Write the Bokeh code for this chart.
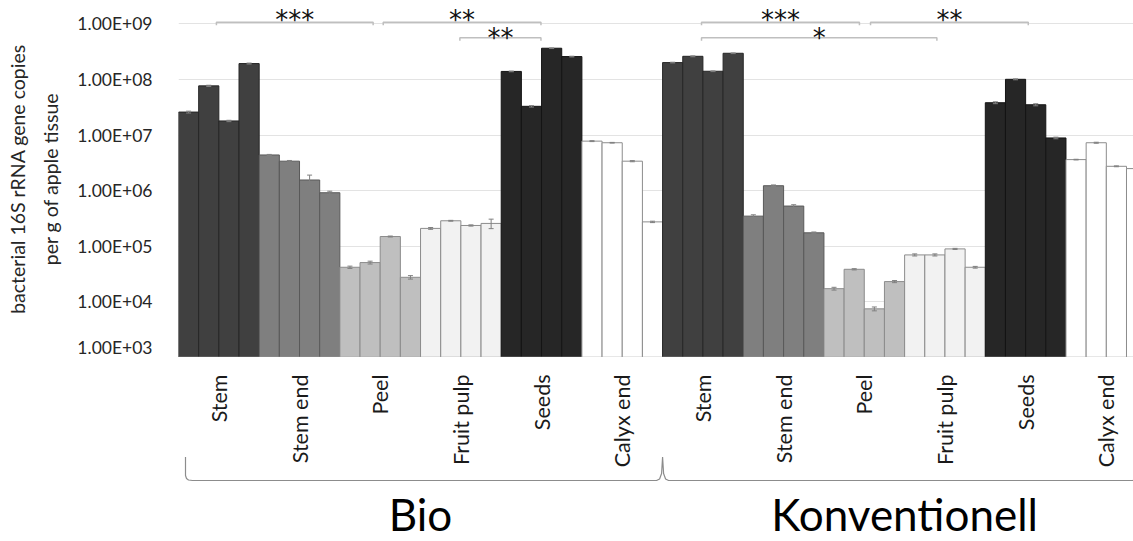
import math
from bokeh.plotting import figure
from bokeh.models import Range1d, FixedTicker, Span, Whisker, TeeHead, ColumnDataSource
from bokeh.layouts import column
from bokeh.core.properties import value
from bokeh.embed import file_html
from bokeh.resources import INLINE

# ---------------- data ----------------
groups = ["Bio", "Konventionell"]
categories = ["Stem", "Stem end", "Peel", "Fruit pulp", "Seeds", "Calyx end"]
n_rep = 4

bio_vals = [2.6e7, 7.7e7, 1.8e7, 1.94e8,
            4.4e6, 3.4e6, 1.56e6, 9.2e5,
            4.2e4, 5.1e4, 1.5e5, 2.77e4,
            2.1e5, 2.88e5, 2.37e5, 2.58e5,
            1.4e8, 3.3e7, 3.66e8, 2.59e8,
            7.8e6, 7.3e6, 3.4e6, 2.75e5]
bio_err = [1.0e6, 2.0e6, 5.0e5, 4.0e6,
           1.0e5, 1.0e5, 3.5e5, 6.0e4,
           2.0e3, 3.0e3, 3.0e3, 2.0e3,
           8.0e3, 5.0e3, 6.0e3, 5.0e4,
           2.0e6, 1.0e6, 5.0e6, 4.0e6,
           1.5e5, 1.0e5, 8.0e4, 8.0e3]
konv_vals = [2.02e8, 2.62e8, 1.41e8, 2.97e8,
             3.49e5, 1.23e6, 5.3e5, 1.75e5,
             1.73e4, 3.86e4, 7.5e3, 2.32e4,
             7.0e4, 7.0e4, 8.98e4, 4.2e4,
             3.83e7, 1.01e8, 3.52e7, 8.9e6,
             3.63e6, 7.3e6, 2.75e6, 2.5e6]
konv_err = [3.0e6, 5.0e6, 2.0e6, 4.0e6,
            2.0e4, 4.0e4, 3.0e4, 6.0e3,
            1.0e3, 1.0e3, 6.0e2, 1.0e3,
            3.0e3, 3.0e3, 2.0e3, 1.5e3,
            1.5e6, 2.0e6, 1.5e6, 3.0e5,
            5.0e4, 1.5e5, 5.0e4, 5.0e4]

tick_values = [1e3, 1e4, 1e5, 1e6, 1e7, 1e8, 1e9]
tick_labels = ["1.00E+03", "1.00E+04", "1.00E+05", "1.00E+06",
               "1.00E+07", "1.00E+08", "1.00E+09"]

y_title = "bacterial 16S rRNA gene copies\nper g of apple tissue"

# significance brackets (bar-position units), row 0 = upper, row 1 = lower
sig_start = [1.88, 10.15, 13.95, 25.93, 25.93, 34.31]
sig_end = [9.65, 17.97, 17.97, 33.76, 37.6, 42.13]
sig_row = [0, 0, 1, 0, 1, 0]
sig_text = ["***", "**", "**", "***", "*", "**"]

# ---------------- styles / layout ----------------
cat_fill = ["#404040", "#7f7f7f", "#bfbfbf", "#f2f2f2", "#262626", "#ffffff"]
cat_line = ["#262626", "#595959", "#8c8c8c", "#8c8c8c", "#141414", "#8c8c8c"]

W, H = 1133, 541
LEFT = 178
TOP_H = 357            # height of chart part (frame 0..357)
PX_DEC = 55.43         # pixels per decade
Y_1E9 = 23.4           # pixel row of 1e9
frame_w = W - LEFT
BW = 20.17             # px per bar
x_end = frame_w / BW

xr = Range1d(0, x_end)
y_top = 10 ** (9 + Y_1E9 / PX_DEC)
y_bot = 10 ** (3 - (TOP_H - 1 - Y_1E9 - 6 * PX_DEC) / PX_DEC)
yr = Range1d(y_bot, y_top)

# build bar table
xs, tops, fills, lines, lo, hi = [], [], [], [], [], []
all_vals = [bio_vals, konv_vals]
all_err = [bio_err, konv_err]
for gi, g in enumerate(groups):
    for ci, c in enumerate(categories):
        for r in range(n_rep):
            k = ci * n_rep + r
            idx = gi * len(categories) * n_rep + k
            v = all_vals[gi][k]
            e = all_err[gi][k]
            xs.append(idx + 0.5)
            tops.append(v)
            fills.append(cat_fill[ci])
            lines.append(cat_line[ci])
            lo.append(v - e)
            hi.append(v + e)

src = ColumnDataSource(dict(x=xs, top=tops, fill=fills, line=lines, lo=lo, hi=hi))

p = figure(width=W, height=TOP_H, y_axis_type="log", x_range=xr, y_range=yr,
           output_backend="svg", toolbar_location=None, x_axis_location=None,
           min_border_left=LEFT, min_border_right=0, min_border_top=0,
           min_border_bottom=0)
p.outline_line_color = None
p.background_fill_color = "white"
p.border_fill_color = "white"

ticker = FixedTicker(ticks=tick_values)
ax = p.yaxis[0]
ax.ticker = ticker
ax.major_label_overrides = {int(t): lab for t, lab in zip(tick_values, tick_labels)}
ax.axis_line_color = None
ax.major_tick_line_color = None
ax.minor_tick_line_color = None
ax.major_label_standoff = 20
ax.major_label_text_font = "Lato"
ax.major_label_text_font_size = "17.5px"
ax.major_label_text_color = "#262626"
ax.axis_label = y_title
ax.axis_label_text_font = "Lato"
ax.axis_label_text_font_size = "19.5px"
ax.axis_label_text_font_style = "normal"
ax.axis_label_text_color = "#262626"
ax.axis_label_text_line_height = 1.45
ax.axis_label_standoff = 12

p.ygrid.ticker = ticker
p.ygrid.grid_line_color = "#e3e3e3"
p.ygrid.grid_line_width = 1
p.xgrid.visible = False

p.vbar(x="x", top="top", bottom=1e3, width=1.0, source=src,
       fill_color="fill", line_color="line", line_width=1)

wk = Whisker(base="x", upper="hi", lower="lo", source=src, level="annotation",
             line_color="#808080", line_width=1,
             upper_head=TeeHead(size=5, line_color="#808080", line_width=1),
             lower_head=TeeHead(size=5, line_color="#808080", line_width=1))
p.add_layout(wk)

p.add_layout(Span(location=1e3, dimension="width", line_color="#a6a6a6", line_width=1.5))

# significance brackets
row_line = [10 ** 9.03, 10 ** 8.75]
row_text = [10 ** 9.067, 10 ** 8.747]
tick_drop = 10 ** (-3.0 / PX_DEC)
bx, by, tx, ty, tt = [], [], [], [], []
for s, e, r, t in zip(sig_start, sig_end, sig_row, sig_text):
    yl = row_line[r]
    bx.append([s, s, e, e])
    by.append([yl * tick_drop, yl, yl, yl * tick_drop])
    tx.append((s + e) / 2)
    ty.append(row_text[r])
    tt.append(t)
p.multi_line(xs=bx, ys=by, line_color="#bfbfbf", line_width=1.5)
p.text(x=tx, y=ty, text=tt, text_align="center", text_baseline="alphabetic",
       text_font=value("DejaVu Sans"), text_font_size="26px", text_color="#111111")

# ---------------- lower panel: category labels, brace, group names ----------------
BOT_H = H - TOP_H
q = figure(width=W, height=BOT_H, x_range=xr, y_range=Range1d(BOT_H, 0),
           output_backend="svg", toolbar_location=None,
           x_axis_location=None, y_axis_location=None,
           min_border_left=LEFT, min_border_right=0, min_border_top=0,
           min_border_bottom=0)
q.outline_line_color = None
q.xgrid.visible = False
q.ygrid.visible = False
q.background_fill_color = "white"
q.border_fill_color = "white"

lx, ly, lt = [], [], []
for gi, g in enumerate(groups):
    for ci, c in enumerate(categories):
        lx.append(gi * len(categories) * n_rep + ci * n_rep + n_rep / 2)
        ly.append(374 - TOP_H)
        lt.append(c)
q.text(x=lx, y=ly, text=lt, angle=math.pi / 2, text_align="right",
       text_baseline="middle", text_font=value("Lato"), text_font_size="21.5px",
       text_color="#1a1a1a")

# brace under each group pair
n_group = len(categories) * n_rep
def px(d):
    return d / BW
brace_top = 456.5 - TOP_H
brace_y = 480 - TOP_H
x0 = px(185 - LEFT)
xm = n_group
x1 = 2 * n_group - x0
bxs = [x0, x0, x0 + px(1), x0 + px(3), x0 + px(7),
       xm - px(6), xm - px(3), xm - px(1), xm, xm + px(1), xm + px(3), xm + px(6),
       x1 - px(7), x1 - px(3), x1 - px(1), x1, x1]
bys = [brace_top, brace_y - 5, brace_y - 2, brace_y - 0.5, brace_y,
       brace_y, brace_y - 1.5, brace_y - 7, brace_top, brace_y - 7, brace_y - 1.5, brace_y,
       brace_y, brace_y - 0.5, brace_y - 2, brace_y - 5, brace_top]
q.line(x=bxs, y=bys, line_color="#8c8c8c", line_width=1.2)

gx = [n_group / 2 + gi * n_group for gi in range(len(groups))]
q.text(x=gx, y=[513 - TOP_H] * len(groups), text=groups, text_align="center",
       text_baseline="middle", text_font=value("Lato"), text_font_size="44px",
       text_color="#000000")

layout = column(p, q, spacing=0)
open("out.html", "w").write(file_html(layout, INLINE))
